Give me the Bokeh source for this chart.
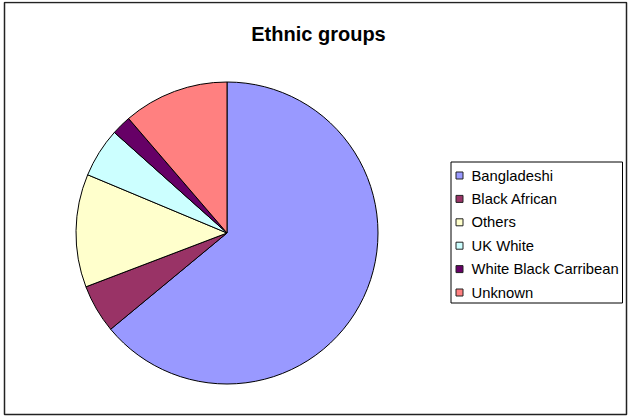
import numpy as np
from bokeh.plotting import figure
from bokeh.models import Range1d, ColumnDataSource
from bokeh.core.properties import value
from bokeh.embed import file_html
from bokeh.resources import INLINE

# ---- data ----
groups = ["Bangladeshi", "Black African", "Others", "UK White",
          "White Black Carribean", "Unknown"]
shares = [64.0, 5.2, 12.1, 5.3, 2.1, 11.3]
colors = ["#9999FF", "#993366", "#FFFFCC", "#CCFFFF", "#660066", "#FF8080"]
chart_title = "Ethnic groups"

# ---- layout helpers (page pixel coords -> data coords) ----
X0, Y0 = 2, 1
W, H = 626, 415


def px(x):
    return np.asarray(x, dtype=float) - X0


def py(y):
    return (Y0 + H) - np.asarray(y, dtype=float)


p = figure(width=W, height=H, x_range=Range1d(0, W), y_range=Range1d(0, H),
           output_backend="svg", toolbar_location=None, min_border=0,
           x_axis_type=None, y_axis_type=None, outline_line_color=None)
p.grid.visible = False
p.background_fill_color = "white"
p.border_fill_color = "white"
p.styles = {"position": "absolute", "left": f"{X0}px", "top": f"{Y0}px"}

# outer chart border
p.quad(left=px(4), right=px(626), top=py(2), bottom=py(414),
       fill_color=None, line_color="#222222", line_width=1.5)

# pie
vals = np.array(shares, dtype=float)
frac = vals / vals.sum()
cum = np.cumsum(frac)
start_cw = cum - frac
src = ColumnDataSource(dict(
    start=np.pi / 2 - cum * 2 * np.pi,
    end=np.pi / 2 - start_cw * 2 * np.pi,
    color=colors, group=groups))
cx, cy, r = 226.5, 232.5, 151
p.wedge(x=float(px(cx)), y=float(py(cy)), radius=r,
        start_angle="start", end_angle="end", fill_color="color",
        line_color="black", line_width=1, source=src)

# title
p.text(x=[float(px(318))], y=[float(py(33.5))], text=[chart_title],
       text_font=value("Liberation Sans"), text_font_size="20px",
       text_font_style="bold", text_align="center",
       text_baseline="alphabetic", text_color="black")

# legend
p.quad(left=px(450.5), right=px(622), top=py(161.5), bottom=py(302.5),
       fill_color="white", line_color="black", line_width=1)
row_y = 175.0 + 23.4 * np.arange(len(groups))
p.quad(left=px(455.5), right=px(462.5), top=py(row_y - 3.5), bottom=py(row_y + 3.5),
       fill_color=colors, line_color="#222222", line_width=1)
p.text(x=px(np.full(len(groups), 471.0)), y=py(row_y), text=groups,
       text_font=value("Liberation Sans"), text_font_size="14.8px",
       text_baseline="middle", text_color="black")

open("out.html", "w").write(file_html(p, INLINE))
